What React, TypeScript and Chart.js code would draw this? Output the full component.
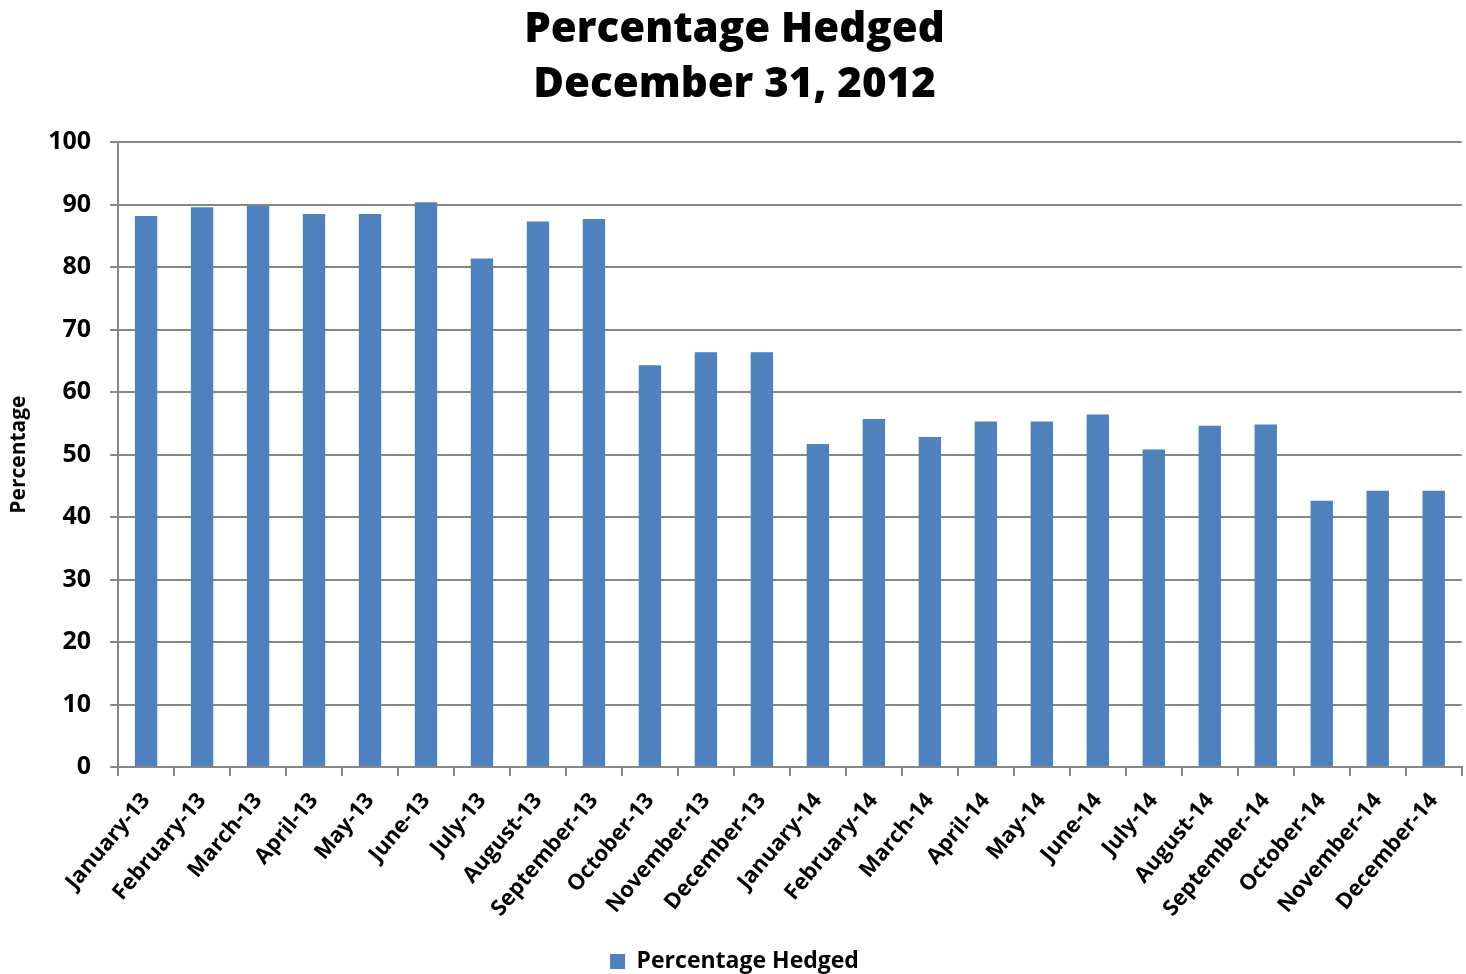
import React, { useEffect, useRef } from "react";
import { Chart, registerables } from "chart.js";

Chart.register(...registerables);

const categories = [
  "January-13", "February-13", "March-13", "April-13", "May-13", "June-13",
  "July-13", "August-13", "September-13", "October-13", "November-13", "December-13",
  "January-14", "February-14", "March-14", "April-14", "May-14", "June-14",
  "July-14", "August-14", "September-14", "October-14", "November-14", "December-14",
];

const percentageHedged = [
  88.2, 89.6, 89.8, 88.5, 88.5, 90.4,
  81.4, 87.3, 87.7, 64.3, 66.4, 66.4,
  51.7, 55.7, 52.8, 55.3, 55.3, 56.4,
  50.8, 54.6, 54.8, 42.6, 44.2, 44.2,
];

const titleLines = ["Percentage Hedged", "December 31, 2012"];
const seriesName = "Percentage Hedged";
const yAxisTitle = "Percentage";

const FONT = "'Open Sans', Lato, sans-serif";

export default function App() {
  const canvasRef = useRef<HTMLCanvasElement | null>(null);

  useEffect(() => {
    const canvas = canvasRef.current;
    if (!canvas) return;
    const chart = new Chart(canvas, {
      type: "bar",
      data: {
        labels: categories,
        datasets: [
          {
            label: seriesName,
            data: percentageHedged,
            backgroundColor: "#4F81BD",
            borderWidth: 0,
            barPercentage: 0.4,
            categoryPercentage: 1,
          },
        ],
      },
      options: {
        animation: false,
        responsive: true,
        maintainAspectRatio: false,
        layout: { padding: { left: 6, right: 3, top: 0, bottom: -9 } },
        plugins: {
          title: {
            display: true,
            text: titleLines,
            color: "#000",
            font: { family: FONT, size: 42, weight: "800", lineHeight: 1.3 },
            padding: { top: 3, bottom: 30 },
          },
          legend: {
            display: true,
            position: "bottom",
            labels: {
              color: "#000",
              font: { family: FONT, size: 23, weight: "bold" },
              boxWidth: 15,
              boxHeight: 15,
              padding: 2,
            },
          },
          tooltip: { enabled: false },
        },
        scales: {
          x: {
            afterFit: (scale: any) => {
              scale.height = 181;
            },
            grid: {
              display: true,
              drawOnChartArea: false,
              drawTicks: true,
              offset: true,
              tickLength: 9,
              color: "#868686",
              lineWidth: 2,
            },
            border: { display: true, color: "#868686", width: 2 },
            ticks: {
              color: "#000",
              font: { family: FONT, size: 22, weight: "bold" },
              minRotation: 50,
              maxRotation: 50,
              autoSkip: false,
              padding: 12,
            },
          },
          y: {
            min: 0,
            max: 100,
            grid: {
              display: true,
              color: "#868686",
              lineWidth: 2,
              drawTicks: true,
              tickLength: 8,
            },
            border: { display: true, color: "#868686", width: 2 },
            ticks: {
              stepSize: 10,
              color: "#000",
              font: { family: FONT, size: 25, weight: "bold" },
              padding: 19,
            },
            title: {
              display: true,
              text: yAxisTitle,
              color: "#000",
              font: { family: FONT, size: 21, weight: "bold" },
              padding: { top: 0, bottom: -2 },
            },
          },
        },
      },
    });
    return () => chart.destroy();
  }, []);

  return (
    <div
      style={{
        position: "fixed",
        left: 0,
        top: 0,
        width: 1466,
        height: 974,
        background: "#fff",
      }}
    >
      <canvas ref={canvasRef} />
    </div>
  );
}
